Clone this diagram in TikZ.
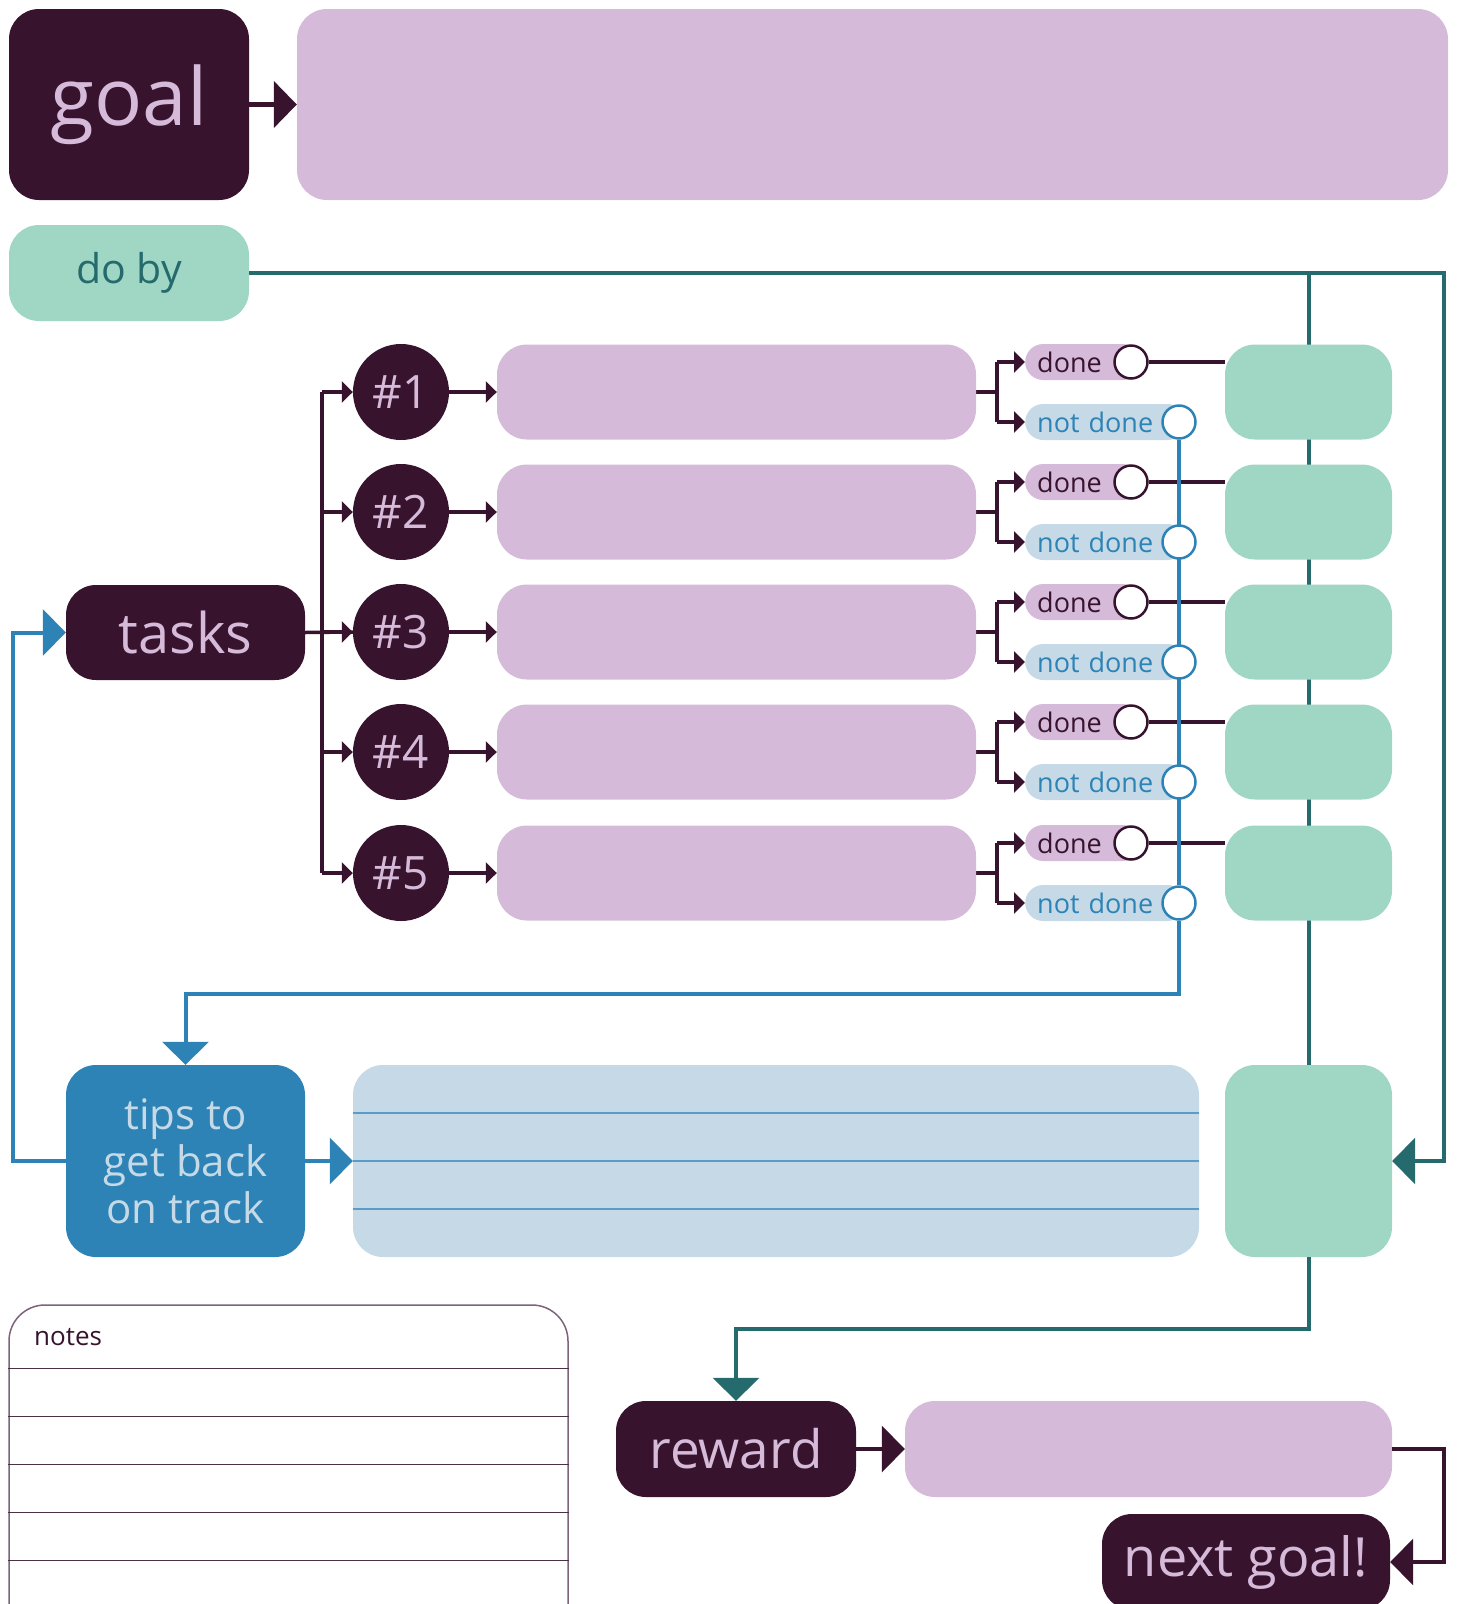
\documentclass[tikz,border=0pt]{standalone}
\usepackage{fontspec}
\setmainfont{Open Sans}
\usetikzlibrary{arrows.meta,backgrounds,calc}
\definecolor{darkp}{HTML}{38132D}
\definecolor{lav}{HTML}{D5BBD9}
\definecolor{mint}{HTML}{A0D7C4}
\definecolor{tealc}{HTML}{256B6D}
\definecolor{bluec}{HTML}{2D83B5}
\definecolor{lblue}{HTML}{C5D9E7}
\definecolor{lbline}{HTML}{5A9DC8}
\definecolor{notesb}{HTML}{7D6478}
\definecolor{notesl}{HTML}{4A3145}
\tikzset{
  sz/.style 2 args={minimum width=#1pt, minimum height=#2pt, inner sep=0pt},
  darkbox/.style={fill=darkp, text=lav, rounded corners=30pt},
  lavbox/.style={fill=lav, rounded corners=30pt},
  mintbox/.style={fill=mint, rounded corners=30pt},
  numcirc/.style={circle, fill=darkp, text=lav, minimum size=96pt, inner sep=0pt, font=\fontsize{46}{50}\selectfont},
  donepill/.style={fill=lav, text=darkp, rounded corners=18pt, minimum height=36pt, inner ysep=0pt, inner xsep=12pt, text width=91pt, align=left, font=\fontsize{27}{30}\selectfont},
  notpill/.style={fill=lblue, text=bluec, rounded corners=18pt, minimum height=36pt, inner ysep=0pt, inner xsep=12pt, text width=136pt, align=left, font=\fontsize{27}{30}\selectfont},
  donecirc/.style={circle, fill=white, draw=darkp, line width=2.5pt, minimum size=33pt, inner sep=0pt},
  notcirc/.style={circle, fill=white, draw=bluec, line width=2.5pt, minimum size=33pt, inner sep=0pt},
  darkline/.style={draw=darkp, line width=4pt},
  tealline/.style={draw=tealc, line width=4pt},
  blueline/.style={draw=bluec, line width=4pt},
  bigtip/.style={-{Triangle[length=23pt,width=46pt]}},
  smalltip/.style={-{Triangle[length=11pt,width=21pt]}},
}
\begin{document}
\begin{tikzpicture}[x=1pt,y=-1pt]
\useasboundingbox (0,0) rectangle (1457,1604);
% top
\node[darkbox, sz={240}{191}, font=\fontsize{80}{84}\selectfont] (goal) at (129,104.5) {goal};
\node[lavbox, sz={1151}{191}] (goalbox) at (872.5,104.5) {};
\node[mintbox, sz={240}{96}, text=tealc, font=\fontsize{41}{45}\selectfont] (doby) at (129,273) {do by};
% tasks
\node[darkbox, sz={239}{95}, font=\fontsize{56}{60}\selectfont] (tasks) at (185.5,632.5) {tasks};
\foreach \i/\y in {1/392,2/512,3/632,4/752,5/873}{
  \node[numcirc] (c\i) at (401,\y) {\#\i};
  \node[lavbox, sz={479}{95}] (t\i) at (736.5,\y) {};
  \node[donepill, anchor=west] (d\i) at (1025,\y-30) {done};
  \node[notpill, anchor=west] (n\i) at (1025,\y+30) {not done};
  \node[donecirc] (dc\i) at (1131,\y-30) {};
  \node[notcirc] (nc\i) at (1179,\y+30) {};
  \node[mintbox, sz={167}{95}] (g\i) at (1308.5,\y) {};
}
% bottom middle
\node[fill=bluec, text=lblue, rounded corners=30pt, sz={239}{192}, align=center, font=\fontsize{42}{47}\selectfont] (tips) at (185.5,1161) {tips to\\get back\\on track};
\node[fill=lblue, rounded corners=30pt, sz={846}{192}] (lb) at (776,1161) {};
\node[mintbox, sz={167}{192}] (bg) at (1308.5,1161) {};
\draw[lbline, line width=2pt] (lb.west) -- (lb.east);
\draw[lbline, line width=2pt] ([yshift=48pt]lb.west) -- ([yshift=48pt]lb.east);
\draw[lbline, line width=2pt] ([yshift=-48pt]lb.west) -- ([yshift=-48pt]lb.east);
% notes
\node[draw=notesb, line width=1.5pt, rounded corners=36pt, sz={559}{360}] (notesbox) at (288.5,1485) {};
\node[anchor=west, text=darkp, inner sep=0pt, font=\fontsize{26}{30}\selectfont] (notes) at (34,1337) {notes};
\foreach \k in {1,...,5}{
  \draw[notesl, line width=1.5pt] ([yshift={-64pt-(\k-1)*48pt}]notesbox.north west) -- ([yshift={-64pt-(\k-1)*48pt}]notesbox.north east);
}
% reward
\node[darkbox, sz={240}{96}, font=\fontsize{53}{57}\selectfont] (reward) at (736,1449) {reward};
\node[lavbox, sz={487}{96}] (rbox) at (1148.5,1449) {};
\node[darkbox, sz={288}{96}, font=\fontsize{54}{58}\selectfont] (nextgoal) at (1246,1562) {next goal!};
% connectors
\begin{scope}[on background layer]
  \coordinate (tr) at (1444,273);
  \coordinate (tj) at (1308.5,273);
  \draw[tealline] (tj) -- (bg.north);
  \draw[darkline, line width=3.5pt] (tasks.east) -- (c3.west);
  \coordinate (tv) at (322,632);
  \draw[darkline] (tv |- c1) -- (tv |- c5);
  \foreach \i in {1,...,5}{
    \draw[darkline] (dc\i.east) -- (dc\i.east -| g\i.west);
    \draw[darkline] (t\i.east) -- ++(21,0) coordinate (br\i);
    \draw[darkline] (br\i |- d\i) -- (br\i |- n\i);
  }
  \draw[blueline] (nc1) -- (nc5);
\end{scope}
\foreach \i in {1,...,5}{
  \draw[darkline, line width=3.5pt, smalltip] (tv |- c\i) -- (c\i.west);
  \draw[darkline, smalltip] (br\i |- d\i) -- (d\i.west);
  \draw[darkline, smalltip] (br\i |- n\i) -- (n\i.west);
  \draw[darkline, line width=3.5pt, smalltip] (c\i.east) -- (t\i.west);
}
\draw[darkline, line width=5pt, bigtip] (goal.east) -- (goalbox.west);
\draw[tealline, bigtip] (doby.east) -- (tr) |- (bg.east);
\draw[tealline, bigtip] (bg.south) |- ($(reward.north)+(0,-72)$) -- (reward.north);
\draw[blueline, bigtip] (nc5.south) |- ($(tips.north)+(0,-71)$) -- (tips.north);
\draw[blueline, bigtip] (tips.west) -- ++(-53,0) |- (tasks.west);
\draw[blueline, bigtip] (tips.east) -- (lb.west);
\draw[darkline, bigtip] (reward.east) -- (rbox.west);
\draw[darkline, bigtip] (rbox.east) -- ++(52,0) |- (nextgoal.east);
\end{tikzpicture}
\end{document}
